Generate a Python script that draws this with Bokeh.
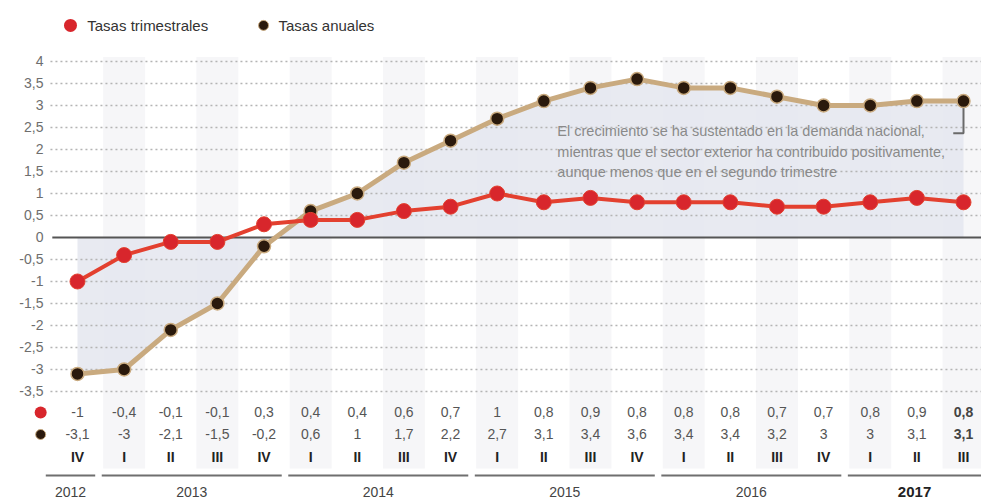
from bokeh.plotting import figure
from bokeh.models import Range1d
from bokeh.embed import file_html
from bokeh.resources import INLINE
from bokeh.core.properties import value

# ---------------- data ----------------
quarters = ["IV", "I", "II", "III", "IV", "I", "II", "III", "IV", "I", "II", "III",
            "IV", "I", "II", "III", "IV", "I", "II", "III"]
year_of = [2012] + [2013] * 4 + [2014] * 4 + [2015] * 4 + [2016] * 4 + [2017] * 3
years = [2012, 2013, 2014, 2015, 2016, 2017]
trimestral = [-1, -0.4, -0.1, -0.1, 0.3, 0.4, 0.4, 0.6, 0.7, 1, 0.8, 0.9, 0.8, 0.8,
              0.8, 0.7, 0.7, 0.8, 0.9, 0.8]
anual = [-3.1, -3, -2.1, -1.5, -0.2, 0.6, 1, 1.7, 2.2, 2.7, 3.1, 3.4, 3.6, 3.4, 3.4,
         3.2, 3, 3, 3.1, 3.1]
yticks = [-3.5, -3, -2.5, -2, -1.5, -1, -0.5, 0, 0.5, 1, 1.5, 2, 2.5, 3, 3.5, 4]
legend_labels = ["Tasas trimestrales", "Tasas anuales"]
note_lines = ["El crecimiento se ha sustentado en la demanda nacional,",
              "mientras que el sector exterior ha contribuido positivamente,",
              "aunque menos que en el segundo trimestre"]


def fmt(v):
    return f"{v:g}".replace(".", ",")


RED = "#d8262c"
RED_LINE = "#e3402f"
TAN = "#c9aa7f"
DARK = "#2a190c"
FONT = value("Liberation Sans")

n = len(quarters)
xs = list(range(n))

p = figure(width=981, height=502,
           x_range=Range1d(-1.651, 19.386), y_range=Range1d(-6.0227, 5.386),
           output_backend="svg", toolbar_location=None, min_border=0,
           x_axis_type=None, y_axis_type=None)
p.outline_line_color = None
p.background_fill_color = "white"

# faint column bands (odd quarters)
odd = [i for i in xs if i % 2 == 1]
p.vbar(x=odd, width=0.9, bottom=-5.25, top=4.1, fill_color="#f6f6f8", line_color=None)

# area between annual line and zero
p.varea(x=xs, y1=[0] * n, y2=anual, fill_color="#e6e8ef", fill_alpha=0.9)

# gridlines
grid_y = [t for t in yticks if t != 0]
p.segment(x0=[-0.58] * len(grid_y), x1=[19.39] * len(grid_y), y0=grid_y, y1=grid_y,
          line_color="#b4b4b4", line_width=1.3, line_dash="2 3")
p.segment(x0=[-0.54], x1=[19.39], y0=[0], y1=[0], line_color="#555555", line_width=2)

# y tick labels
p.text(x=[-0.73] * len(yticks), y=yticks, text=[fmt(t) for t in yticks],
       text_align="right", text_baseline="middle", text_font=FONT,
       text_font_size="14px", text_color="#6e6e6e")

# annotation
p.text(x=[10.29] * 3, y=[2.43, 1.95, 1.48], text=note_lines,
       text_align="left", text_baseline="middle", text_font=FONT,
       text_font_size="14.5px", text_color="#8a8a8a")
p.line(x=[xs[-1], xs[-1], xs[-1] - 0.22], y=[anual[-1], 2.37, 2.37],
       line_color="#6a6a6a", line_width=2)

# series
p.line(x=xs, y=anual, line_color=TAN, line_width=5)
p.line(x=xs, y=trimestral, line_color=RED_LINE, line_width=4)
p.scatter(x=xs, y=anual, size=13, fill_color=DARK, line_color=TAN, line_width=1.5)
p.scatter(x=xs, y=trimestral, size=15, fill_color=RED, line_color=RED_LINE, line_width=1)

# top legend
p.scatter(x=[-0.15], y=[4.82], size=13, fill_color=RED, line_color=None)
p.scatter(x=[3.99], y=[4.82], size=10, fill_color=DARK, line_color=TAN, line_width=1)
p.text(x=[0.21, 4.31], y=[4.82, 4.82], text=legend_labels, text_align="left",
       text_baseline="middle", text_font=FONT, text_font_size="15px",
       text_color="#333333")

# table
row_y = [-3.977, -4.477, -5.0]
p.scatter(x=[-0.79], y=[row_y[0]], size=12, fill_color=RED, line_color=None)
p.scatter(x=[-0.79], y=[row_y[1]], size=10, fill_color=DARK, line_color=TAN, line_width=1)
p.text(x=xs[:-1], y=[row_y[0]] * (n - 1), text=[fmt(v) for v in trimestral[:-1]],
       text_align="center", text_baseline="middle", text_font=FONT,
       text_font_size="14px", text_color="#555555")
p.text(x=xs[:-1], y=[row_y[1]] * (n - 1), text=[fmt(v) for v in anual[:-1]],
       text_align="center", text_baseline="middle", text_font=FONT,
       text_font_size="14px", text_color="#555555")
p.text(x=[xs[-1], xs[-1]], y=[row_y[0], row_y[1]],
       text=[fmt(trimestral[-1]), fmt(anual[-1])],
       text_align="center", text_baseline="middle", text_font=FONT,
       text_font_size="14px", text_font_style="bold", text_color="#444444")
p.text(x=xs, y=[row_y[2]] * n, text=quarters, text_align="center",
       text_baseline="middle", text_font=FONT, text_font_size="14px",
       text_font_style="bold", text_color="#222222")

# year groups
x0s, x1s, mids = [], [], []
for yr in years:
    idx = [i for i, y in enumerate(year_of) if y == yr]
    a = idx[0] - 0.5 + 0.02
    b = min(idx[-1] + 0.5 - 0.12, 19.39)
    if yr == years[0]:
        a = idx[0] - 0.68
    x0s.append(a)
    x1s.append(b)
    mids.append((a + b) / 2)
p.segment(x0=x0s, x1=x1s, y0=[-5.409] * len(years), y1=[-5.409] * len(years),
          line_color="#6f6f6f", line_width=2)
p.text(x=mids[:-1], y=[-5.795] * (len(years) - 1), text=[str(y) for y in years[:-1]],
       text_align="center", text_baseline="middle", text_font=FONT,
       text_font_size="14px", text_color="#444444")
p.text(x=[mids[-1]], y=[-5.795], text=[str(years[-1])],
       text_align="center", text_baseline="middle", text_font=FONT,
       text_font_size="15px", text_font_style="bold", text_color="#222222")

open("out.html", "w").write(file_html(p, INLINE))
